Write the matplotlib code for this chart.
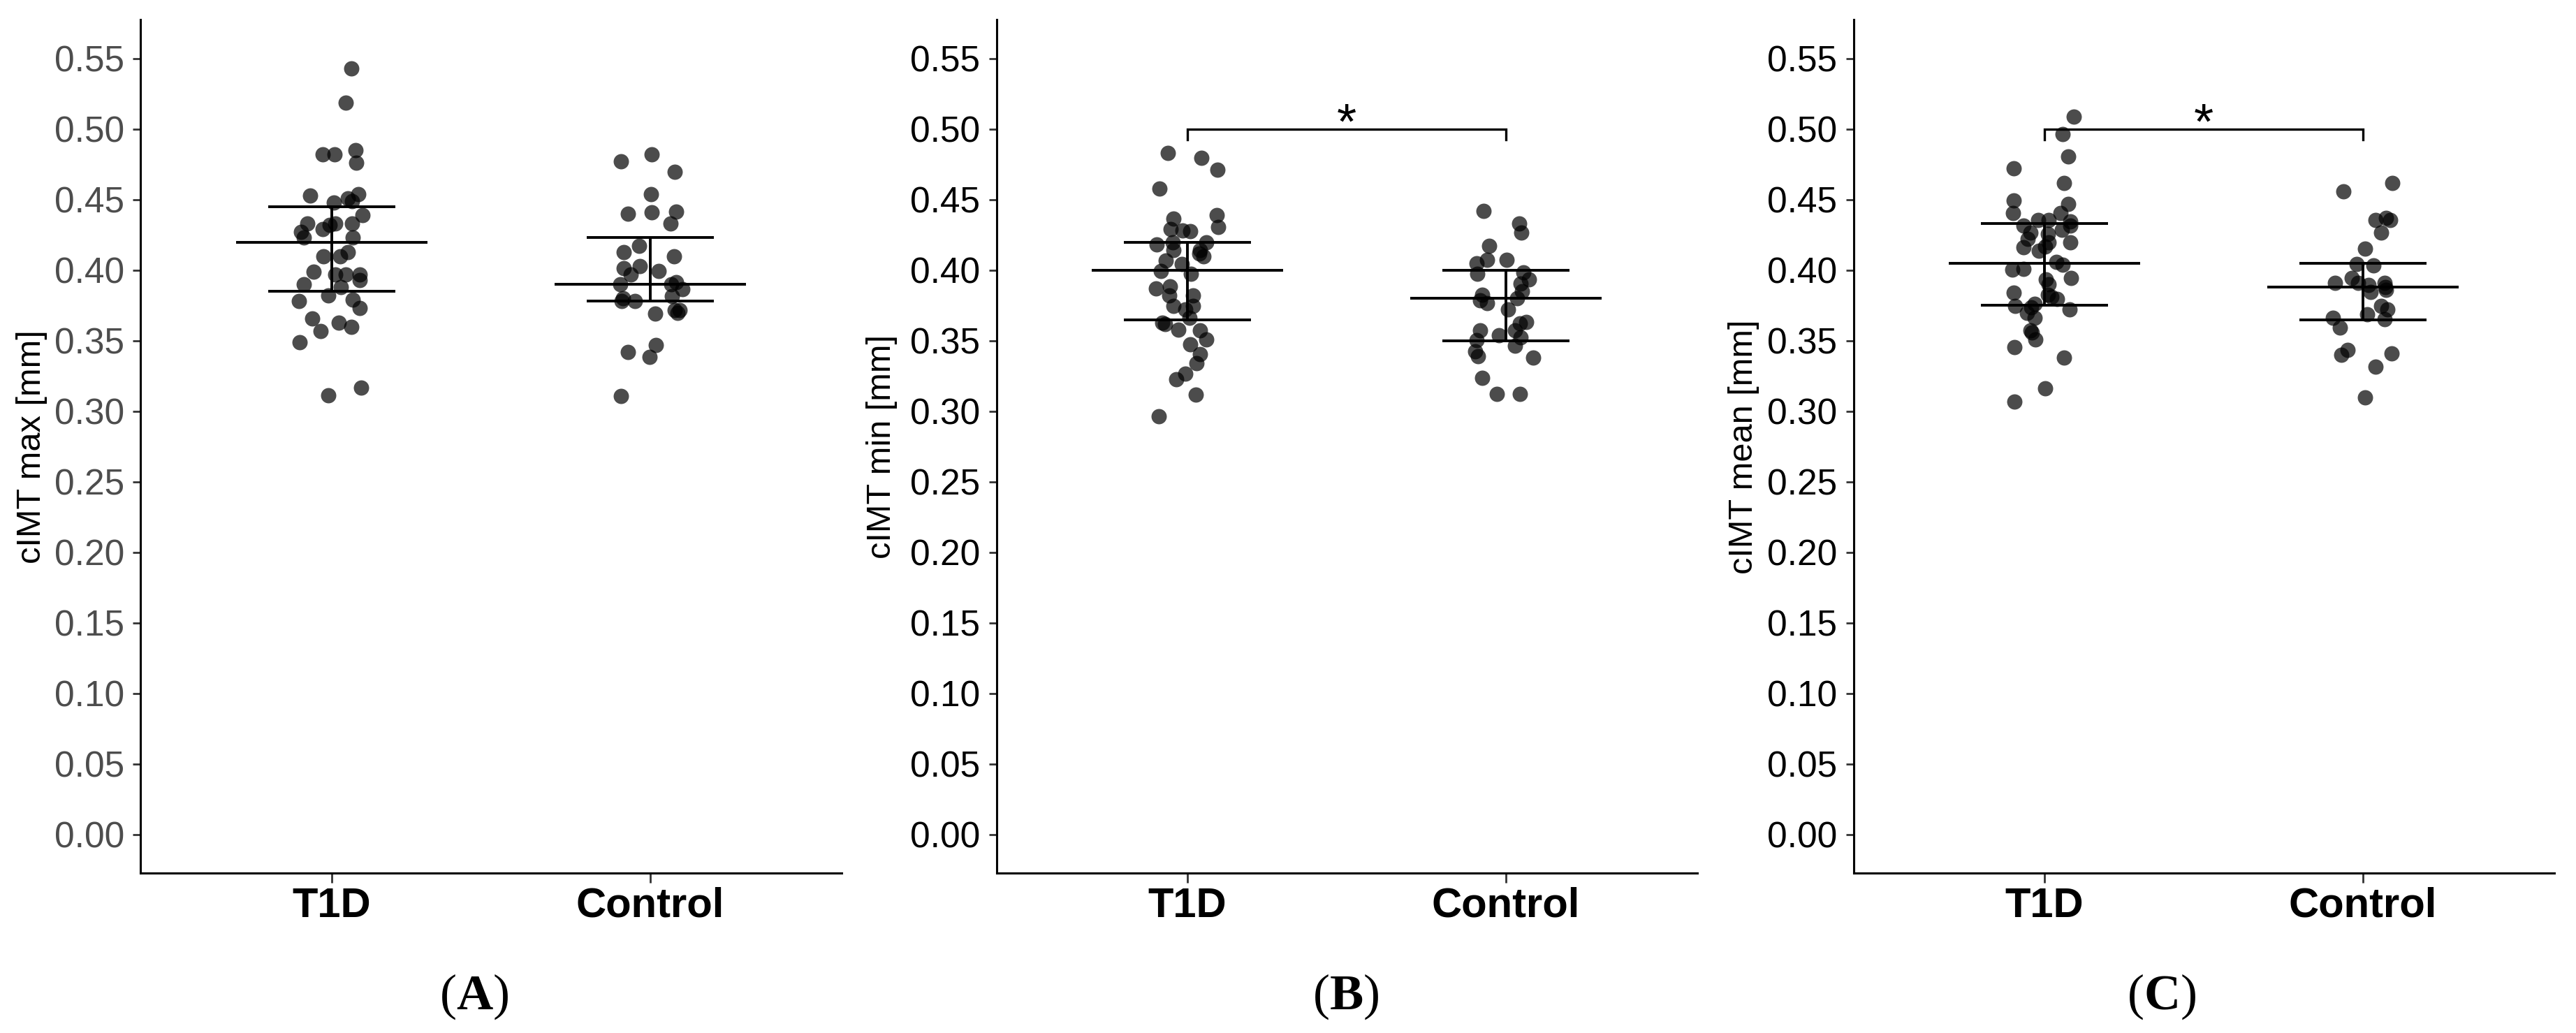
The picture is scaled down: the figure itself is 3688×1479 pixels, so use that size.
import matplotlib
matplotlib.use("Agg")
import matplotlib.pyplot as plt
from matplotlib import font_manager
import numpy as np

# ---- data ----
groups = ["T1D", "Control"]

# (A) cIMT max
max_t1d = [0.543, 0.519, 0.482, 0.482, 0.485, 0.476, 0.453, 0.454, 0.451, 0.448,
           0.449, 0.439, 0.433, 0.433, 0.433, 0.429, 0.432, 0.427, 0.423, 0.423,
           0.410, 0.410, 0.413, 0.399, 0.397, 0.397, 0.397, 0.393, 0.390, 0.388,
           0.382, 0.378, 0.379, 0.373, 0.366, 0.363, 0.360, 0.357, 0.349, 0.3115,
           0.317]
max_t1d_jit = [0.062, 0.044, -0.029, 0.008, 0.075, 0.077, -0.068, 0.084, 0.051, 0.007,
               0.064, 0.097, -0.077, 0.011, 0.064, -0.029, -0.007, -0.097, -0.088, 0.066,
               -0.027, 0.027, 0.051, -0.058, 0.011, 0.044, 0.088, 0.088, -0.088, 0.029,
               -0.011, -0.102, 0.066, 0.088, -0.062, 0.022, 0.062, -0.034, -0.101, -0.010,
               0.092]
max_ctl = [0.477, 0.482, 0.470, 0.454, 0.440, 0.441, 0.4415, 0.433, 0.4175, 0.413,
           0.410, 0.4015, 0.403, 0.397, 0.3995, 0.390, 0.390, 0.3916, 0.3867, 0.380,
           0.378, 0.378, 0.3817, 0.3717, 0.3717, 0.3693, 0.3697, 0.342, 0.347, 0.3388,
           0.3107]
max_ctl_jit = [-0.092, 0.005, 0.077, 0.003, -0.071, 0.004, 0.082, 0.064, -0.035, -0.083,
               0.075, -0.083, -0.033, -0.061, 0.027, -0.094, 0.067, 0.082, 0.100, -0.086,
               -0.090, -0.048, 0.069, 0.078, 0.093, 0.015, 0.085, -0.071, 0.018, -0.003,
               -0.091]

# (B) cIMT min
min_t1d = [0.483, 0.4797, 0.4715, 0.4579, 0.4368, 0.439, 0.4307, 0.429, 0.4277, 0.4282,
           0.4183, 0.420, 0.4142, 0.420, 0.4117, 0.410, 0.4144, 0.4068, 0.4043, 0.3994,
           0.3977, 0.387, 0.3886, 0.382, 0.382, 0.3746, 0.3721, 0.3746, 0.3663, 0.363,
           0.362, 0.3581, 0.3573, 0.351, 0.3474, 0.3407, 0.3342, 0.3267, 0.3226, 0.3119,
           0.2965]
min_t1d_jit = [-0.062, 0.044, 0.095, -0.089, -0.044, 0.092, 0.096, -0.052, 0.009, -0.015,
               -0.096, -0.047, -0.044, 0.058, 0.036, 0.051, 0.040, -0.069, -0.018, -0.084,
               0.011, -0.098, -0.055, -0.058, 0.018, -0.044, -0.007, 0.018, 0.007, -0.080,
               -0.070, -0.029, 0.040, 0.060, 0.009, 0.040, 0.029, -0.007, -0.035, 0.027,
               -0.090]
min_ctl = [0.4422, 0.4332, 0.4266, 0.4175, 0.4076, 0.4076, 0.4048, 0.3977, 0.3985, 0.3936,
           0.3906, 0.3853, 0.3828, 0.3787, 0.3767, 0.380, 0.3721, 0.3635, 0.3622, 0.3573,
           0.3573, 0.354, 0.3523, 0.3506, 0.3465, 0.3424, 0.3391, 0.3383, 0.3239, 0.3122,
           0.3122]
min_ctl_jit = [-0.071, 0.041, 0.049, -0.053, -0.060, 0.001, -0.092, -0.089, 0.054, 0.072,
               0.046, 0.050, -0.075, -0.081, -0.059, 0.036, 0.007, 0.063, 0.043, 0.028,
               -0.082, -0.021, 0.046, -0.092, 0.028, -0.097, -0.088, 0.086, -0.075, -0.028,
               0.044]

# (C) cIMT mean
mean_t1d = [0.509, 0.4967, 0.4805, 0.4723, 0.462, 0.4497, 0.4469, 0.4406, 0.4406, 0.4356,
            0.4356, 0.4348, 0.4315, 0.4285, 0.4315, 0.4266, 0.4257, 0.4224, 0.420, 0.420,
            0.4162, 0.4137, 0.4167, 0.4059, 0.4038, 0.4005, 0.401, 0.3944, 0.3936, 0.3902,
            0.384, 0.3828, 0.3795, 0.3812, 0.3746, 0.3762, 0.3738, 0.3721, 0.3696, 0.3663,
            0.3576, 0.356, 0.351, 0.3457, 0.3383, 0.3163, 0.3069]
mean_t1d_jit = [0.092, 0.056, 0.074, -0.097, 0.061, -0.097, 0.074, -0.099, 0.050, -0.019,
                0.014, 0.081, 0.081, 0.054, -0.065, -0.043, 0.010, -0.052, 0.014, 0.081,
                -0.065, -0.017, 0.003, 0.036, 0.057, -0.102, -0.066, 0.083, 0.005, 0.014,
                -0.097, 0.010, 0.039, 0.021, -0.092, -0.030, -0.041, 0.079, -0.055, -0.031,
                -0.043, -0.040, -0.028, -0.095, 0.061, 0.001, -0.095]
mean_ctl = [0.456, 0.462, 0.4356, 0.4373, 0.4356, 0.4266, 0.4153, 0.4043, 0.4035, 0.3944,
            0.3911, 0.3911, 0.3895, 0.3911, 0.3861, 0.388, 0.3845, 0.3746, 0.3721, 0.3688,
            0.3655, 0.3663, 0.3593, 0.3436, 0.340, 0.3411, 0.3317, 0.3097]
mean_ctl_jit = [-0.062, 0.092, 0.039, 0.072, 0.086, 0.056, 0.007, -0.020, 0.032, -0.035,
                -0.088, -0.015, 0.017, 0.068, 0.072, 0.070, 0.025, 0.057, 0.076, 0.014,
                0.068, -0.095, -0.073, -0.049, -0.068, 0.089, 0.039, 0.007]

# centre line and lower / upper bars per group (T1D, Control)
max_mid, max_lo, max_hi = [0.420, 0.390], [0.385, 0.378], [0.445, 0.423]
min_mid, min_lo, min_hi = [0.400, 0.380], [0.365, 0.350], [0.420, 0.400]
mean_mid, mean_lo, mean_hi = [0.405, 0.388], [0.375, 0.365], [0.433, 0.405]

ylabels = ["cIMT max [mm]", "cIMT min [mm]", "cIMT mean [mm]"]
panel_tags = ["A", "B", "C"]
significant = [False, True, True]

# ---- fonts ----
names = {f.name for f in font_manager.fontManager.ttflist}
sans = "Liberation Sans" if "Liberation Sans" in names else "DejaVu Sans"
if "Liberation Sans Narrow" in names:
    xfont, xsize = "Liberation Sans Narrow", 52
else:
    xfont, xsize = sans, 43
serif = "Liberation Serif" if "Liberation Serif" in names else "DejaVu Serif"
plt.rcParams["font.family"] = [sans, "DejaVu Sans"]
plt.rcParams["mathtext.fontset"] = "custom"
plt.rcParams["mathtext.rm"] = serif
plt.rcParams["mathtext.bf"] = serif + ":bold"

fig = plt.figure(figsize=(36.88, 14.79), dpi=100)

lefts = [0.0546, 0.3868, 0.7195]
tag_x = [0.184, 0.5225, 0.839]
label_x = [-0.133, -0.141, -0.134]
tick_colors = ["#4D4D4D", "black", "black"]

panels = [
    (max_t1d, max_t1d_jit, max_ctl, max_ctl_jit, max_mid, max_lo, max_hi),
    (min_t1d, min_t1d_jit, min_ctl, min_ctl_jit, min_mid, min_lo, min_hi),
    (mean_t1d, mean_t1d_jit, mean_ctl, mean_ctl_jit, mean_mid, mean_lo, mean_hi),
]

for i, (t1d, t1d_jit, ctl, ctl_jit, mid, lo, hi) in enumerate(panels):
    ax = fig.add_axes([lefts[i], 0.1545, 0.2720, 0.8263])

    ax.scatter(1 + np.array(t1d_jit), t1d, s=250, color="black", alpha=0.7,
               linewidths=0, zorder=2)
    ax.scatter(2 + np.array(ctl_jit), ctl, s=250, color="black", alpha=0.7,
               linewidths=0, zorder=2)

    for g in range(2):
        xc = g + 1
        ax.hlines(mid[g], xc - 0.3, xc + 0.3, color="black", lw=2.8, zorder=3)
        ax.hlines([lo[g], hi[g]], xc - 0.2, xc + 0.2, color="black", lw=2.8, zorder=3)
        ax.vlines(xc, lo[g], hi[g], color="black", lw=2.8, zorder=3)

    if significant[i]:
        ax.plot([1, 1, 2, 2], [0.4925, 0.5, 0.5, 0.4925], color="black", lw=2.4,
                zorder=3, solid_joinstyle="miter")
        ax.text(1.5, 0.4935, "*", ha="center", va="baseline", fontsize=52,
                color="black")

    ax.set_xlim(0.4, 2.6)
    ax.set_ylim(-0.0275, 0.5775)
    ax.set_yticks(np.arange(0, 0.551, 0.05))
    ax.set_yticklabels(["%.2f" % v for v in np.arange(0, 0.551, 0.05)])
    ax.set_xticks([1, 2])
    ax.set_xticklabels(groups, fontfamily=xfont, fontsize=xsize, fontweight="bold")

    for side in ["top", "right"]:
        ax.spines[side].set_visible(False)
    for side in ["left", "bottom"]:
        ax.spines[side].set_linewidth(2.2)
        ax.spines[side].set_color("black")

    ax.tick_params(axis="y", length=8, width=2, pad=9, labelsize=37,
                   labelcolor=tick_colors[i], color="#333333")
    ax.tick_params(axis="x", length=10, width=2, pad=4, color="#333333")

    ax.set_ylabel(ylabels[i], fontsize=35)
    ax.yaxis.set_label_coords(label_x[i], 0.5)

    fig.text(tag_x[i], 0.035, r"($\mathbf{%s}$)" % panel_tags[i], ha="center",
             va="center", fontsize=52, fontfamily=serif)

fig.savefig("out.png", dpi=100)
